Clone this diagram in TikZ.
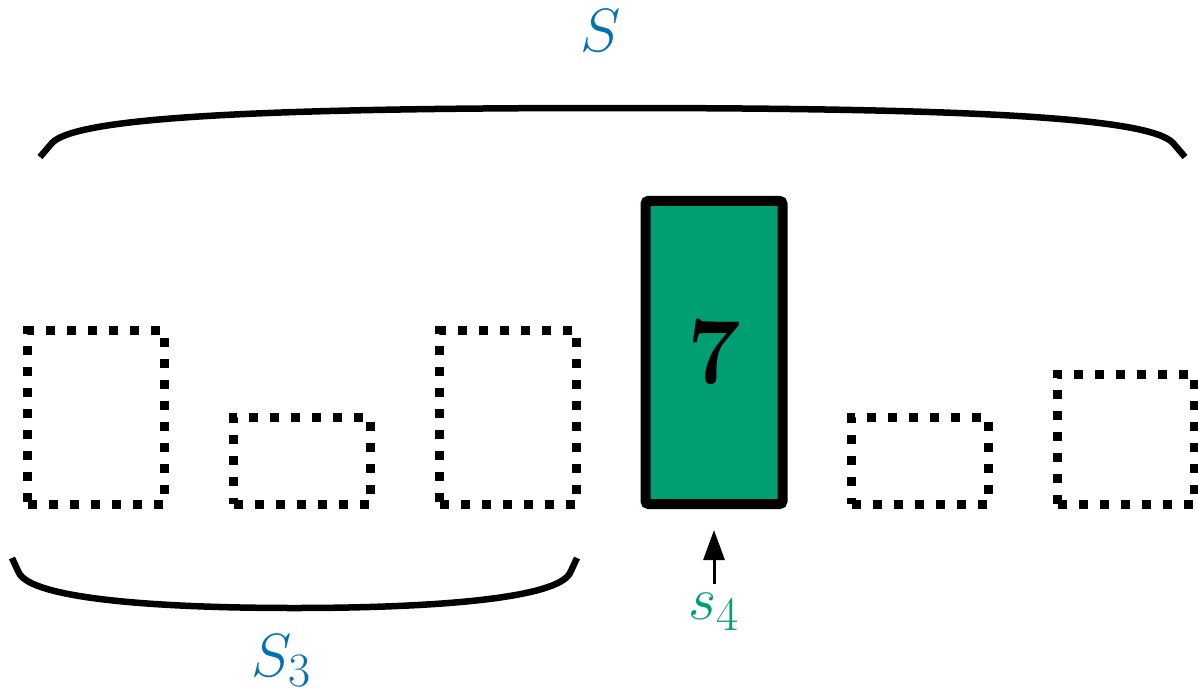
\documentclass[tikz,border=0pt]{standalone}
\usepackage{fix-cm}
\usetikzlibrary{arrows.meta}
\definecolor{setblue}{HTML}{0072B2}
\definecolor{pickgreen}{HTML}{009E73}
% index digits set at a fixed size
\newcommand\idxdigit[1]{\hbox{\fontsize{48}{50}\selectfont #1}}
\begin{document}
\begin{tikzpicture}[x=1pt,y=-1pt,
  bar/.style={anchor=south west,outer sep=0pt,inner sep=0pt,minimum width=137pt},
  emptybar/.style={bar,draw=black,line width=9pt,dash pattern=on 9pt off 12pt},
  chosenbar/.style={bar,draw=black,fill=pickgreen,line width=10pt,rounded corners=3pt,
    font=\fontsize{95}{100}\selectfont\bfseries},
  brace/.style={draw=black,line width=6.5pt},
  setlabel/.style={anchor=base,inner sep=0pt,text=setblue,font=\fontsize{61}{70}\selectfont},
  ptrlabel/.style={anchor=base,inner sep=0pt,text=pickgreen,font=\fontsize{61}{70}\selectfont},
  pointer/.style={line width=3pt,-{Triangle[length=30pt,width=21pt]}}]
\useasboundingbox (0,0) rectangle (1198,693);

% bars: one unit of height is 43.3pt, all standing on y = 504
\node[emptybar,minimum height=173.2pt] (b1) at (27.5,504) {};
\node[emptybar,minimum height=86.6pt]  (b2) at (233.5,504) {};
\node[emptybar,minimum height=173.2pt] (b3) at (439.5,504) {};
\node[chosenbar,minimum height=303.1pt] (b4) at (645.5,504) {7};
\node[emptybar,minimum height=86.6pt]  (b5) at (851.5,504) {};
\node[emptybar,minimum height=129.9pt] (b6) at (1057.5,504) {};

% brace over the whole sequence
\draw[brace] (40,157) -- (52,143) .. controls (75,118) and (250,108) .. (612.5,108)
  .. controls (975,108) and (1150,118) .. (1173,143) -- (1185,157);
\node[setlabel] (S) at (601,52) {$S$};

% brace under the first three bars
\draw[brace] (12,558) -- (19,573) .. controls (32,598) and (150,608) .. (294.5,608)
  .. controls (439,608) and (557,598) .. (570,573) -- (577,558);
\node[setlabel] (S3) at (281,676) {$S_{\idxdigit{3}}$};

% pointer to the chosen bar
\node[ptrlabel] (s4) at (714,619) {$s_{\idxdigit{4}}$};
\draw[pointer,shorten <=9pt,shorten >=26pt] (s4.north) -- (b4.south);
\end{tikzpicture}
\end{document}
